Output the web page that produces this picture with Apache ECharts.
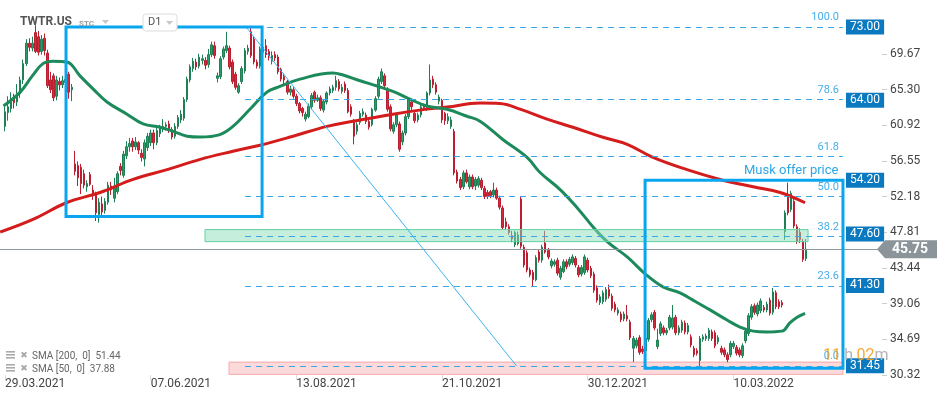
<!DOCTYPE html>
<html><head><meta charset="utf-8">
<script src="https://cdn.jsdelivr.net/npm/echarts@6/dist/echarts.min.js"></script>
<style>html,body{margin:0;padding:0;background:#fff}#c{width:950px;height:402px}</style>
</head><body><div id="c"></div>
<script>
// ---------- data ----------
const xLabels = ['29.03.2021','07.06.2021','13.08.2021','21.10.2021','30.12.2021','10.03.2022'];
const xLabelIdx = [0,48,96,144,192,240];
const yTicks = [30.32,34.69,39.06,43.44,47.81,52.18,56.55,60.92,65.30,69.67];
// daily candles: [open, close, low, high]
const candles = [
[60.8,62.6,60.2,63.4],[62.5,63.2,61.5,64.5],[63.0,64.0,62.5,65.0],[64.2,63.7,63.0,64.8],[63.8,64.8,63.3,66.0],
[64.8,66.5,64.3,66.9],[66.5,68.5,66.0,69.0],[68.5,71.0,68.2,71.5],[71.0,70.5,70.0,71.6],[70.4,71.0,70.0,71.8],
[72.3,70.0,69.8,73.2],[71.8,69.9,69.5,72.5],[70.0,71.5,69.6,72.0],[71.6,70.1,69.5,72.2],[69.8,65.8,65.5,70.2],
[66.5,65.3,64.9,67.5],[67.0,64.3,63.9,67.3],[64.5,66.5,64.0,67.0],[66.3,65.9,65.2,66.8],[65.9,66.4,65.5,67.0],
[66.2,66.6,65.8,67.2],[67.2,65.0,64.2,67.5],[65.3,65.6,63.9,66.0],[56.2,55.3,54.8,57.8],[56.0,54.5,53.5,56.5],
[55.8,53.8,52.5,56.2],[55.0,53.6,53.2,55.5],[53.4,53.8,52.8,54.2],[54.9,53.7,53.5,55.2],[53.0,52.5,51.8,53.6],
[52.4,50.2,49.2,52.8],[50.0,51.5,49.0,52.0],[51.3,50.3,49.8,52.2],[50.5,51.6,50.1,52.0],[51.5,53.6,51.2,54.0],
[53.5,53.0,52.4,54.0],[52.0,53.4,51.5,54.5],[52.8,55.0,52.5,55.3],[55.9,55.4,54.8,56.3],[54.8,57.4,54.5,57.8],
[57.2,58.3,56.8,59.0],[58.3,58.7,57.7,59.4],[59.0,58.3,57.7,59.4],[58.3,58.9,57.9,59.5],[58.8,57.9,57.4,59.0],
[57.5,57.0,56.5,58.0],[56.8,58.8,55.9,59.2],[58.2,59.6,57.8,60.0],[58.8,60.0,58.4,60.4],[60.0,58.8,58.0,60.4],
[58.8,60.3,58.5,60.6],[59.9,60.6,59.5,61.0],[60.5,60.8,60.1,61.7],[60.8,61.0,60.3,61.3],[61.1,60.3,60.0,61.5],
[60.4,59.5,59.2,60.7],[59.6,60.8,59.3,61.2],[60.8,61.9,60.5,62.2],[61.6,62.3,61.2,62.8],[61.8,64.1,61.5,64.4],
[64.1,66.6,63.8,66.9],[66.5,68.1,66.2,68.4],[67.9,68.8,67.5,69.2],[68.7,68.1,67.7,69.1],[68.2,69.3,67.9,69.7],
[68.9,69.1,68.4,69.6],[68.9,68.3,67.8,69.3],[68.4,69.6,68.0,70.3],[69.6,70.8,69.3,71.2],[70.7,69.5,69.1,71.2],
[66.7,67.0,66.2,67.4],[66.9,69.1,66.6,69.4],[69.3,70.3,69.0,70.6],[70.1,70.7,69.8,72.4],[70.4,68.1,67.8,70.7],
[68.7,66.3,66.0,69.0],[67.2,65.6,65.3,67.5],[65.0,65.8,64.8,66.1],[66.3,67.9,66.0,68.2],[67.6,70.1,67.3,70.4],
[70.0,70.4,69.6,70.8],[72.4,69.5,69.2,73.0],[71.5,68.7,68.4,71.8],[68.7,68.2,67.9,69.0],[68.2,70.3,67.9,70.6],
[69.9,70.5,69.4,71.5],[70.7,69.6,69.2,71.5],[70.0,69.3,68.9,70.3],[68.8,69.5,68.4,70.0],[69.6,69.2,68.8,70.0],
[69.3,67.5,67.2,69.6],[67.8,66.6,66.3,68.0],[66.9,66.5,66.0,67.3],[66.3,65.0,64.7,66.5],[65.0,65.4,64.6,65.8],
[65.3,64.5,64.2,65.6],[64.5,63.6,63.3,64.8],[63.6,62.7,62.4,63.8],[63.0,62.5,62.0,63.2],[61.7,62.3,61.4,62.6],
[62.0,63.3,61.8,63.6],[63.2,64.6,62.9,64.9],[65.0,64.0,63.7,65.2],[64.0,64.3,63.8,64.7],[64.3,63.0,62.7,64.6],
[62.8,63.9,62.5,64.1],[63.8,64.9,63.5,65.1],[64.9,65.4,64.6,65.7],[65.2,65.6,64.9,65.9],[65.6,66.4,65.2,67.0],
[66.3,65.4,65.1,66.6],[65.1,65.6,64.8,66.0],[66.0,65.2,64.9,66.3],[65.2,62.6,62.4,65.5],[63.2,62.3,62.0,63.5],
[61.4,59.6,58.6,61.7],[60.2,61.0,59.8,61.3],[61.3,62.4,61.0,62.7],[62.3,62.6,62.0,63.0],[62.2,61.4,61.1,62.5],
[61.4,60.7,60.4,61.6],[61.0,62.9,60.8,63.1],[62.8,64.2,62.6,64.5],[64.5,66.6,64.2,66.9],[66.3,67.5,66.0,67.9],
[67.0,65.8,65.6,67.3],[65.4,62.9,62.6,65.6],[63.2,60.5,60.2,63.5],[60.2,61.0,59.9,61.3],[61.0,62.2,60.7,62.5],
[61.1,58.0,57.7,61.4],[58.9,60.0,58.5,60.3],[60.0,62.0,59.7,62.3],[62.0,64.1,61.7,64.4],[63.8,63.2,62.8,64.1],
[62.4,61.5,61.2,62.7],[61.6,62.2,61.3,62.5],[62.2,63.2,61.9,63.5],[63.3,63.1,62.8,63.6],[63.0,64.9,62.7,65.1],
[64.9,66.5,64.6,68.4],[66.6,65.9,65.5,67.0],[65.9,65.0,64.7,66.2],[63.9,64.4,63.5,64.7],[64.0,61.6,61.2,64.2],
[62.4,61.5,61.0,62.6],[61.5,62.0,61.1,62.4],[60.8,61.6,60.5,62.0],[60.2,55.1,54.8,60.5],[55.2,54.1,53.8,55.5],
[54.3,53.3,53.0,54.6],[53.4,55.1,53.1,55.4],[55.1,54.0,53.8,55.5],[53.4,54.6,53.1,54.9],[54.6,53.4,53.1,54.9],
[53.5,54.3,53.0,54.6],[53.6,54.4,53.3,54.7],[54.2,53.3,53.0,54.5],[53.2,52.2,51.9,53.5],[52.7,52.2,51.9,53.0],
[52.8,52.3,52.0,53.0],[52.4,53.0,52.1,53.9],[53.0,52.0,51.8,53.3],[52.0,50.9,50.6,52.3],[50.8,48.4,48.1,51.1],
[49.1,48.5,48.2,49.6],[48.5,47.8,47.5,48.8],[47.4,47.0,46.6,48.0],[46.3,47.8,46.0,48.0],[46.4,47.5,46.2,47.9],
[51.9,46.1,45.8,52.2],[46.0,43.8,43.5,46.3],[45.3,43.2,42.9,45.6],[43.2,42.6,42.3,43.5],[42.9,42.0,41.1,43.2],
[42.0,44.7,41.8,45.0],[45.4,44.4,44.1,45.7],[44.4,46.0,44.1,46.3],[46.5,45.4,45.2,48.0],[45.6,44.8,44.5,45.9],
[43.7,44.3,43.4,44.6],[43.9,44.2,43.6,44.5],[44.4,42.8,42.5,44.7],[42.3,43.4,42.0,43.7],[43.0,44.2,42.8,44.5],
[44.2,43.6,43.3,44.5],[43.9,44.5,43.6,44.8],[44.1,44.8,43.8,45.1],[44.6,43.8,43.5,44.9],[43.5,42.6,42.3,43.8],
[42.7,43.5,42.4,43.8],[42.9,44.8,42.6,45.1],[44.4,43.2,42.9,44.7],[43.4,42.5,42.2,43.7],[42.7,40.7,40.4,43.0],
[41.0,39.5,39.2,41.3],[39.2,39.9,38.9,40.2],[39.3,40.4,39.0,40.7],[39.6,40.8,39.3,41.1],[40.8,40.0,39.7,41.4],
[40.0,38.5,38.2,40.3],[39.0,38.3,38.0,39.3],[37.9,38.3,37.6,38.6],[37.8,37.1,36.8,38.1],[37.2,37.8,36.9,38.1],
[37.6,37.2,36.9,38.9],[36.8,34.9,34.6,37.1],[33.6,34.8,31.9,35.1],[33.9,34.6,33.6,34.9],[34.9,33.1,32.8,35.2],
[33.5,33.2,32.9,33.9],[33.3,34.8,33.0,35.1],[34.7,37.0,34.4,37.3],[37.1,37.7,36.8,38.0],[38.0,36.1,35.8,38.3],
[33.8,34.6,33.5,36.0],[35.4,36.6,35.1,36.9],[36.1,35.5,35.2,36.4],[35.5,35.8,35.2,36.1],[36.1,37.4,35.8,37.7],
[36.2,37.3,35.9,38.9],[37.4,35.5,35.2,37.7],[35.5,36.1,35.2,36.4],[35.8,36.8,35.5,37.1],[36.7,35.6,35.3,37.0],
[35.6,36.4,35.3,36.7],[35.0,34.0,33.7,35.3],[33.6,32.8,32.5,33.9],[33.3,33.0,32.7,33.6],[32.1,34.8,31.4,35.1],
[34.7,35.0,34.4,35.3],[34.8,35.1,34.5,35.4],[34.8,35.8,34.5,36.1],[35.6,34.8,34.5,35.9],[35.5,33.9,33.6,35.8],
[34.4,34.9,34.1,35.2],[33.6,33.1,32.8,33.9],[33.4,32.8,32.5,33.7],[32.8,32.2,31.9,33.1],[32.8,34.2,32.5,34.5],
[33.8,34.2,33.5,34.5],[33.7,33.0,32.7,34.0],[33.4,32.8,32.5,33.7],[32.7,33.9,32.4,34.2],[34.5,35.7,34.2,36.0],
[35.4,37.6,35.1,37.9],[37.4,38.7,37.1,39.0],[38.8,38.0,37.7,39.1],[37.8,38.9,37.5,39.2],[38.2,39.4,37.9,39.7],
[38.6,38.3,38.0,38.9],[38.3,39.0,38.0,39.3],[39.5,37.9,37.6,39.8],[38.0,40.5,37.7,41.0],[40.4,38.7,38.4,40.7],
[39.3,38.7,38.4,39.6],[39.2,38.9,38.6,39.5],[47.9,50.2,46.9,50.5],[52.2,50.2,49.9,53.9],[50.6,52.6,50.3,52.9],
[51.6,48.6,48.3,51.9],[48.5,46.7,46.4,48.8],[47.8,46.9,46.5,48.3],[46.7,44.5,44.2,47.0],[44.6,45.75,44.3,47.0]
];
// moving averages sampled along the drawn curves: [bar index, value]
const sma200 = [[-1.6,47.85],[9.2,49.4],[20.4,51.47],[31.3,52.7],[42.2,54.3],[53.4,55.5],[64.3,56.76],[75.1,57.75],
[84,58.5],[94.9,59.6],[106.1,60.8],[114.7,61.44],[127.8,62.3],[139,62.92],[145.6,63.17],[156.5,63.66],[163,63.6],
[169.7,62.92],[178.6,61.69],[187.1,60.7],[197,59.47],[205,58.6],[213.5,57.0],[224.7,55.5],[235.6,54.3],
[246.5,53.4],[255.4,52.7],[263.6,51.44]];
const sma50 = [[-0.5,63.3],[5,65.0],[9,67.0],[12.5,68.5],[15.8,68.8],[20.4,68.7],[24.7,67.0],[29,65.4],[33.6,63.8],
[40.2,62.3],[45.5,61.1],[51.1,60.7],[55.4,60.2],[60,59.6],[64.3,59.5],[70.8,59.8],[75.1,60.8],[80.7,62.9],
[86.3,65.0],[90.6,65.7],[97.2,66.6],[108,67.35],[111.4,67.1],[117,66.4],[122.6,65.75],[127.8,65.1],[133.4,64.15],
[139,63.3],[145.6,62.9],[152.2,62.05],[156.5,61.44],[164,59.2],[172,57.0],[176.3,55.15],[182.9,53.06],
[188.5,50.84],[193.7,48.5],[198.4,46.67],[205,44.8],[211,42.7],[216.8,41.13],[222.4,40.4],[226.7,39.5],
[232.3,38.3],[237.9,37.06],[242.2,36.2],[246.5,35.7],[251,35.6],[256,35.7],[258.6,36.7],[261,37.4],[263.6,37.88]];
const fibLevels = [73.00, 64.11, 57.13, 52.23, 47.32, 41.26, 31.45];
const fibNames = ['100.0','78.6','61.8','50.0','38.2','23.6','0.0'];
const priceTags = [73.00, 64.00, 54.20, 47.60, 41.30, 31.45];
const muskPrice = 54.20;
const lastPrice = 45.75;
const smaLegend = ['SMA [200,  0]  51.44', 'SMA [50,  0]  37.88'];
const fibSpan = [79.1, 276.1];
const boxes = [[20.1, 84.7, 49.75, 73.0], [210.9, 276.1, 31.15, 54.2]];
const greenBand = [[65.9, 264.6, 46.67, 48.15]];
const pinkBand = [[73.8, 276.1, 30.4, 31.9]];
const trend = [[79.4, 73.0], [168.5, 31.45]];

// ---------- chart ----------
const FONT = 'Roboto, "Noto Sans", sans-serif';
const chart = echarts.init(document.getElementById('c'));

function rectRender(style) {
  return function (params, api) {
    const a = api.coord([api.value(0), api.value(3)]);
    const b = api.coord([api.value(1), api.value(2)]);
    return { type: 'rect', shape: { x: a[0], y: a[1], width: b[0] - a[0], height: b[1] - a[1] }, style: style };
  };
}

const HIDDEN = { color: 'rgba(0,0,0,0)', width: 1, type: 'solid' };
const mlData = [];
fibLevels.forEach((v, k) => {
  mlData.push([{ coord: [fibSpan[0], v], label: { show: true, position: 'insideEndTop', formatter: fibNames[k],
    color: '#45aee8', fontSize: 11, fontFamily: FONT, distance: 4 } }, { coord: [fibSpan[1], v] }]);
});
priceTags.forEach(v => {
  mlData.push([{ coord: [fibSpan[0], v], lineStyle: HIDDEN, label: { show: true, position: 'end',
    formatter: v.toFixed(2), color: '#fff', backgroundColor: '#0b79c0', padding: [2, 4, 1, 4], fontSize: 12,
    fontFamily: FONT, distance: 3 } }, { coord: [fibSpan[1], v] }]);
});
mlData.push([{ coord: [fibSpan[0], muskPrice], lineStyle: HIDDEN, label: { show: true, position: 'insideEndTop',
  formatter: 'Musk offer price', color: '#2ea6e6', fontSize: 13, fontFamily: FONT, distance: 3 } },
  { coord: [fibSpan[1] - 0.5, muskPrice] }]);
mlData.push({ yAxis: lastPrice, lineStyle: { type: 'solid', color: '#8f989c', width: 1 }, label: { show: false } });

chart.setOption({
  animation: false,
  backgroundColor: '#fff',
  grid: { left: 0, right: 68, top: 0, bottom: 27 },
  xAxis: {
    type: 'value', min: -1.65, max: 288.96,
    axisLine: { show: false, onZero: false }, splitLine: { show: false },
    axisTick: { show: true, customValues: xLabelIdx, length: 5, lineStyle: { color: '#ddd' } },
    axisLabel: { customValues: xLabelIdx, align: 'left', margin: 3, color: '#444', fontSize: 12, fontFamily: FONT,
      formatter: v => xLabels[xLabelIdx.indexOf(Math.round(v))] || '' }
  },
  yAxis: {
    type: 'value', position: 'right', min: 30.32, max: 76.3, scale: true,
    axisLine: { show: false, onZero: false }, splitLine: { show: false },
    axisTick: { show: true, customValues: yTicks, length: 5, lineStyle: { color: '#ccc' } },
    axisLabel: { customValues: yTicks, margin: 8, color: '#444', fontSize: 12, fontFamily: FONT,
      formatter: v => v.toFixed(2) }
  },
  series: [
    { type: 'custom', name: 'pink', z: 1, silent: true, data: pinkBand, encode: { x: [0, 1], y: [2, 3] },
      renderItem: rectRender({ fill: 'rgba(248,170,175,0.45)', stroke: '#f5a9ad', lineWidth: 1 }) },
    { type: 'candlestick', z: 2, barWidth: 2,
      dimensions: ['idx', 'open', 'close', 'lowest', 'highest'],
      encode: { x: 'idx', y: ['open', 'close', 'lowest', 'highest'] },
      data: candles.map((c, i) => [i, c[0], c[1], c[2], c[3]]),
      itemStyle: { color: '#2a9c69', color0: '#d42a3c', borderColor: '#1f7f55', borderColor0: '#b91f30', borderWidth: 1 },
      markLine: { silent: true, symbol: 'none', animation: false,
        lineStyle: { type: [6, 5], color: '#3aa7e4', width: 1 }, data: mlData }
    },
    { type: 'line', name: 'SMA200', z: 3, data: sma200, smooth: 0.4, showSymbol: false, silent: true,
      lineStyle: { color: '#d41c1c', width: 3 } },
    { type: 'line', name: 'SMA50', z: 3, data: sma50, smooth: 0.4, showSymbol: false, silent: true,
      lineStyle: { color: '#1d8a5b', width: 3 } },
    { type: 'custom', name: 'band', z: 4, silent: true, data: greenBand, encode: { x: [0, 1], y: [2, 3] },
      renderItem: rectRender({ fill: 'rgba(140,222,188,0.5)', stroke: '#62d3a2', lineWidth: 1 }) },
    { type: 'line', name: 'trend', z: 5, data: trend, showSymbol: false, silent: true,
      lineStyle: { color: '#3db3f0', width: 1 } },
    { type: 'custom', name: 'boxes', z: 6, silent: true, data: boxes, encode: { x: [0, 1], y: [2, 3] },
      renderItem: rectRender({ fill: 'none', stroke: '#09a6ef', lineWidth: 3 }) }
  ]
});

const py = chart.convertToPixel({ yAxisIndex: 0 }, lastPrice);
const gx = chart.convertToPixel({ xAxisIndex: 0 }, 288.96);
const g = [
  { type: 'text', left: 20, top: 16, z: 100, style: { text: 'TWTR.US', fill: '#555', font: 'bold 12px ' + FONT } },
  { type: 'text', left: 79, top: 20, z: 100, style: { text: 'STC', fill: '#9a9a9a', font: 'bold 8px ' + FONT } },
  { type: 'polygon', z: 100, shape: { points: [[102, 20], [109, 20], [105.5, 24]] }, style: { fill: '#c8c8c8' } },
  { type: 'rect', z: 100, shape: { x: 143, y: 14, width: 34, height: 17, r: 3 }, style: { fill: '#fff', stroke: '#ddd', lineWidth: 1 } },
  { type: 'text', left: 148, top: 17, z: 101, style: { text: 'D1', fill: '#555', font: '11px ' + FONT } },
  { type: 'polygon', z: 101, shape: { points: [[166, 21], [173, 21], [169.5, 25]] }, style: { fill: '#c8c8c8' } },
  { type: 'polygon', z: 100, shape: { points: [[gx - 5, py], [gx + 3, py - 9], [937, py - 9], [937, py + 9], [gx + 3, py + 9]] },
    style: { fill: '#8a9499' } },
  { type: 'text', x: 910, y: py, z: 101, style: { text: lastPrice.toFixed(2), fill: '#fff', font: 'bold 14px ' + FONT,
    align: 'center', verticalAlign: 'middle' } },
  { type: 'text', left: 823, top: 348, z: 100, style: { text: '{a|11} {b|h} {a|02}{b|m}',
    rich: { a: { fill: 'rgba(246,160,28,0.9)', fontSize: 16, fontFamily: FONT }, b: { fill: '#b4b4b4', fontSize: 16, fontFamily: FONT } } } }
];
smaLegend.forEach((t, k) => {
  const yy = 356 + k * 13;
  [ -4, -1, 2 ].forEach(d => g.push({ type: 'rect', z: 100, shape: { x: 6, y: yy + d - 1, width: 9, height: 1.6 }, style: { fill: '#aaa' } }));
  g.push({ type: 'text', x: 24, y: yy, z: 100, style: { text: '✖', fill: '#aaa', font: '9px "DejaVu Sans"', align: 'center', verticalAlign: 'middle' } });
  g.push({ type: 'text', x: 32, y: yy, z: 100, style: { text: t, fill: '#666', font: '10px ' + FONT, verticalAlign: 'middle' } });
});
chart.setOption({ graphic: g });
</script>
</body></html>
